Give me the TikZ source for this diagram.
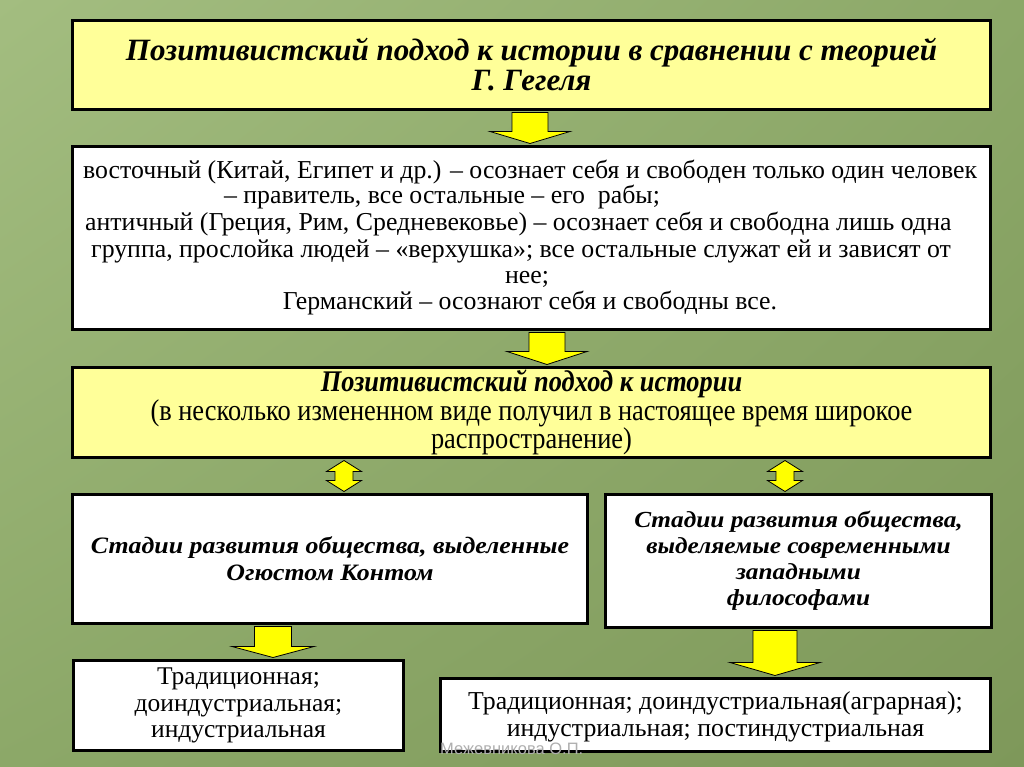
\documentclass[tikz,border=0pt]{standalone}
\usepackage{fontspec}
\setmainfont{Liberation Serif}
\newfontfamily\condfont[FakeStretch=0.88]{Liberation Serif}
\newfontfamily\widefont[FakeStretch=1.1]{Liberation Serif}
\newfontfamily\wmfont{Liberation Sans}
\usetikzlibrary{calc,shadings}
\definecolor{boxyellow}{RGB}{255,255,153}
\definecolor{arrowyellow}{RGB}{255,255,0}
\definecolor{bgA}{RGB}{163,189,128}
\definecolor{bgB}{RGB}{140,168,104}
\definecolor{bgC}{RGB}{126,152,90}
\definecolor{wmgray}{RGB}{175,175,175}
\newcommand\blkdown[6]{%
  \draw[arr] let \p1=(#2.south), \p2=(#3.north) in
    (#1pt-#5pt,\y1-1.5pt) -- (#1pt+#5pt,\y1-1.5pt) -- (#1pt+#5pt,\y2+1.5pt+#4pt)
    -- (#1pt+#6pt,\y2+1.5pt+#4pt) -- (#1pt,\y2+1.5pt) -- (#1pt-#6pt,\y2+1.5pt+#4pt)
    -- (#1pt-#5pt,\y2+1.5pt+#4pt) -- cycle;}
\newcommand\blkboth[6]{%
  \draw[arr] let \p1=(#2.south), \p2=(#3.north) in
    (#1pt,\y1-1.5pt) -- (#1pt+#6pt,\y1-1.5pt-#4pt) -- (#1pt+#5pt,\y1-1.5pt-#4pt)
    -- (#1pt+#5pt,\y2+1.5pt+#4pt) -- (#1pt+#6pt,\y2+1.5pt+#4pt) -- (#1pt,\y2+1.5pt)
    -- (#1pt-#6pt,\y2+1.5pt+#4pt) -- (#1pt-#5pt,\y2+1.5pt+#4pt)
    -- (#1pt-#5pt,\y1-1.5pt-#4pt) -- (#1pt-#6pt,\y1-1.5pt-#4pt) -- cycle;}
\begin{document}
\begin{tikzpicture}[x=1pt,y=-1pt,
  box/.style={draw=black,line width=3pt,inner sep=0pt,anchor=north west},
  ybox/.style={box,fill=boxyellow},
  wbox/.style={box,fill=white},
  arr/.style={fill=arrowyellow,draw=black,line width=0.8pt,line join=miter},
  txt/.style={inner sep=0pt,align=center},
  line/.style={inner sep=0pt,anchor=base west,font=\fontsize{25.8}{25}\selectfont}]
\useasboundingbox (0,0) rectangle (1024,767);
\shade[upper left=bgA,upper right=bgB,lower left=bgB,lower right=bgC] (0,0) rectangle (1024,767);

\node[ybox,minimum width=918pt,minimum height=89pt] (b1) at (71,19) {};
\node[wbox,minimum width=918pt,minimum height=183pt] (b2) at (71,145) {};
\node[ybox,minimum width=918pt,minimum height=90pt] (b3) at (71,366) {};
\node[wbox,minimum width=515pt,minimum height=129pt] (b4) at (71,493) {};
\node[wbox,minimum width=386pt,minimum height=133pt] (b5) at (604,493) {};
\node[wbox,minimum width=330pt,minimum height=90pt] (b6) at (72,659) {};
\node[wbox,minimum width=550pt,minimum height=73pt] (b7) at (439,677) {};

\blkdown{530}{b1}{b2}{12}{18}{40}
\blkdown{547}{b2}{b3}{13}{18}{40}
\blkboth{344}{b3}{b4}{11}{9}{17.5}
\blkboth{785}{b3}{b5}{11}{9}{17.5}
\blkdown{273}{b4}{b6}{11}{18.5}{41}
\blkdown{775}{b5}{b7}{13}{22}{45}

\node[txt,font=\fontsize{31}{30}\selectfont\bfseries\itshape] (t1) at (b1.center)
  {Позитивистский подход к истории в сравнении с теорией\\Г. Гегеля};

\node[line] (l1) at (83,179) {восточный (Китай, Египет и др.) – осознает себя и свободен только один человек};
\node[line,anchor=base] (l2) at (442,204) {– правитель, все остальные – его \ рабы;};
\node[line] (l3) at (85,231) {античный (Греция, Рим, Средневековье) – осознает себя и свободна лишь одна};
\node[line] (l4) at (91,257) {группа, прослойка людей – «верхушка»; все остальные служат ей и зависят от};
\node[line,anchor=base] (l5) at (527,283) {нее;};
\node[line,anchor=base] (l6) at (530,309) {Германский – осознают себя и свободны все.};

\node[txt,font=\condfont\fontsize{30}{27}\selectfont] (t3) at (b3.center)
  {{\bfseries\itshape Позитивистский подход к истории}\\(в несколько измененном виде получил в настоящее время широкое\\распространение)};

\node[txt,font=\widefont\fontsize{23.5}{27}\selectfont\bfseries\itshape] (t4) at (b4.center)
  {Стадии развития общества, выделенные\\Огюстом Контом};
\node[txt,font=\widefont\fontsize{23}{26}\selectfont\bfseries\itshape] (t5) at (b5.center)
  {Стадии развития общества,\\выделяемые современными\\западными\\философами};
\node[txt,font=\fontsize{25.5}{26.5}\selectfont] (t6) at (b6.center)
  {Традиционная;\\доиндустриальная;\\индустриальная};
\node[txt,font=\fontsize{25.8}{27}\selectfont] (t7) at ($(b7.center)+(0,2)$)
  {Традиционная; доиндустриальная(аграрная);\\индустриальная; постиндустриальная};

\node[inner sep=0pt,anchor=base west,font=\wmfont\fontsize{16.5}{16.5}\selectfont,text=wmgray] (wm) at (440,754) {Межевникова О.П.};
\end{tikzpicture}
\end{document}
